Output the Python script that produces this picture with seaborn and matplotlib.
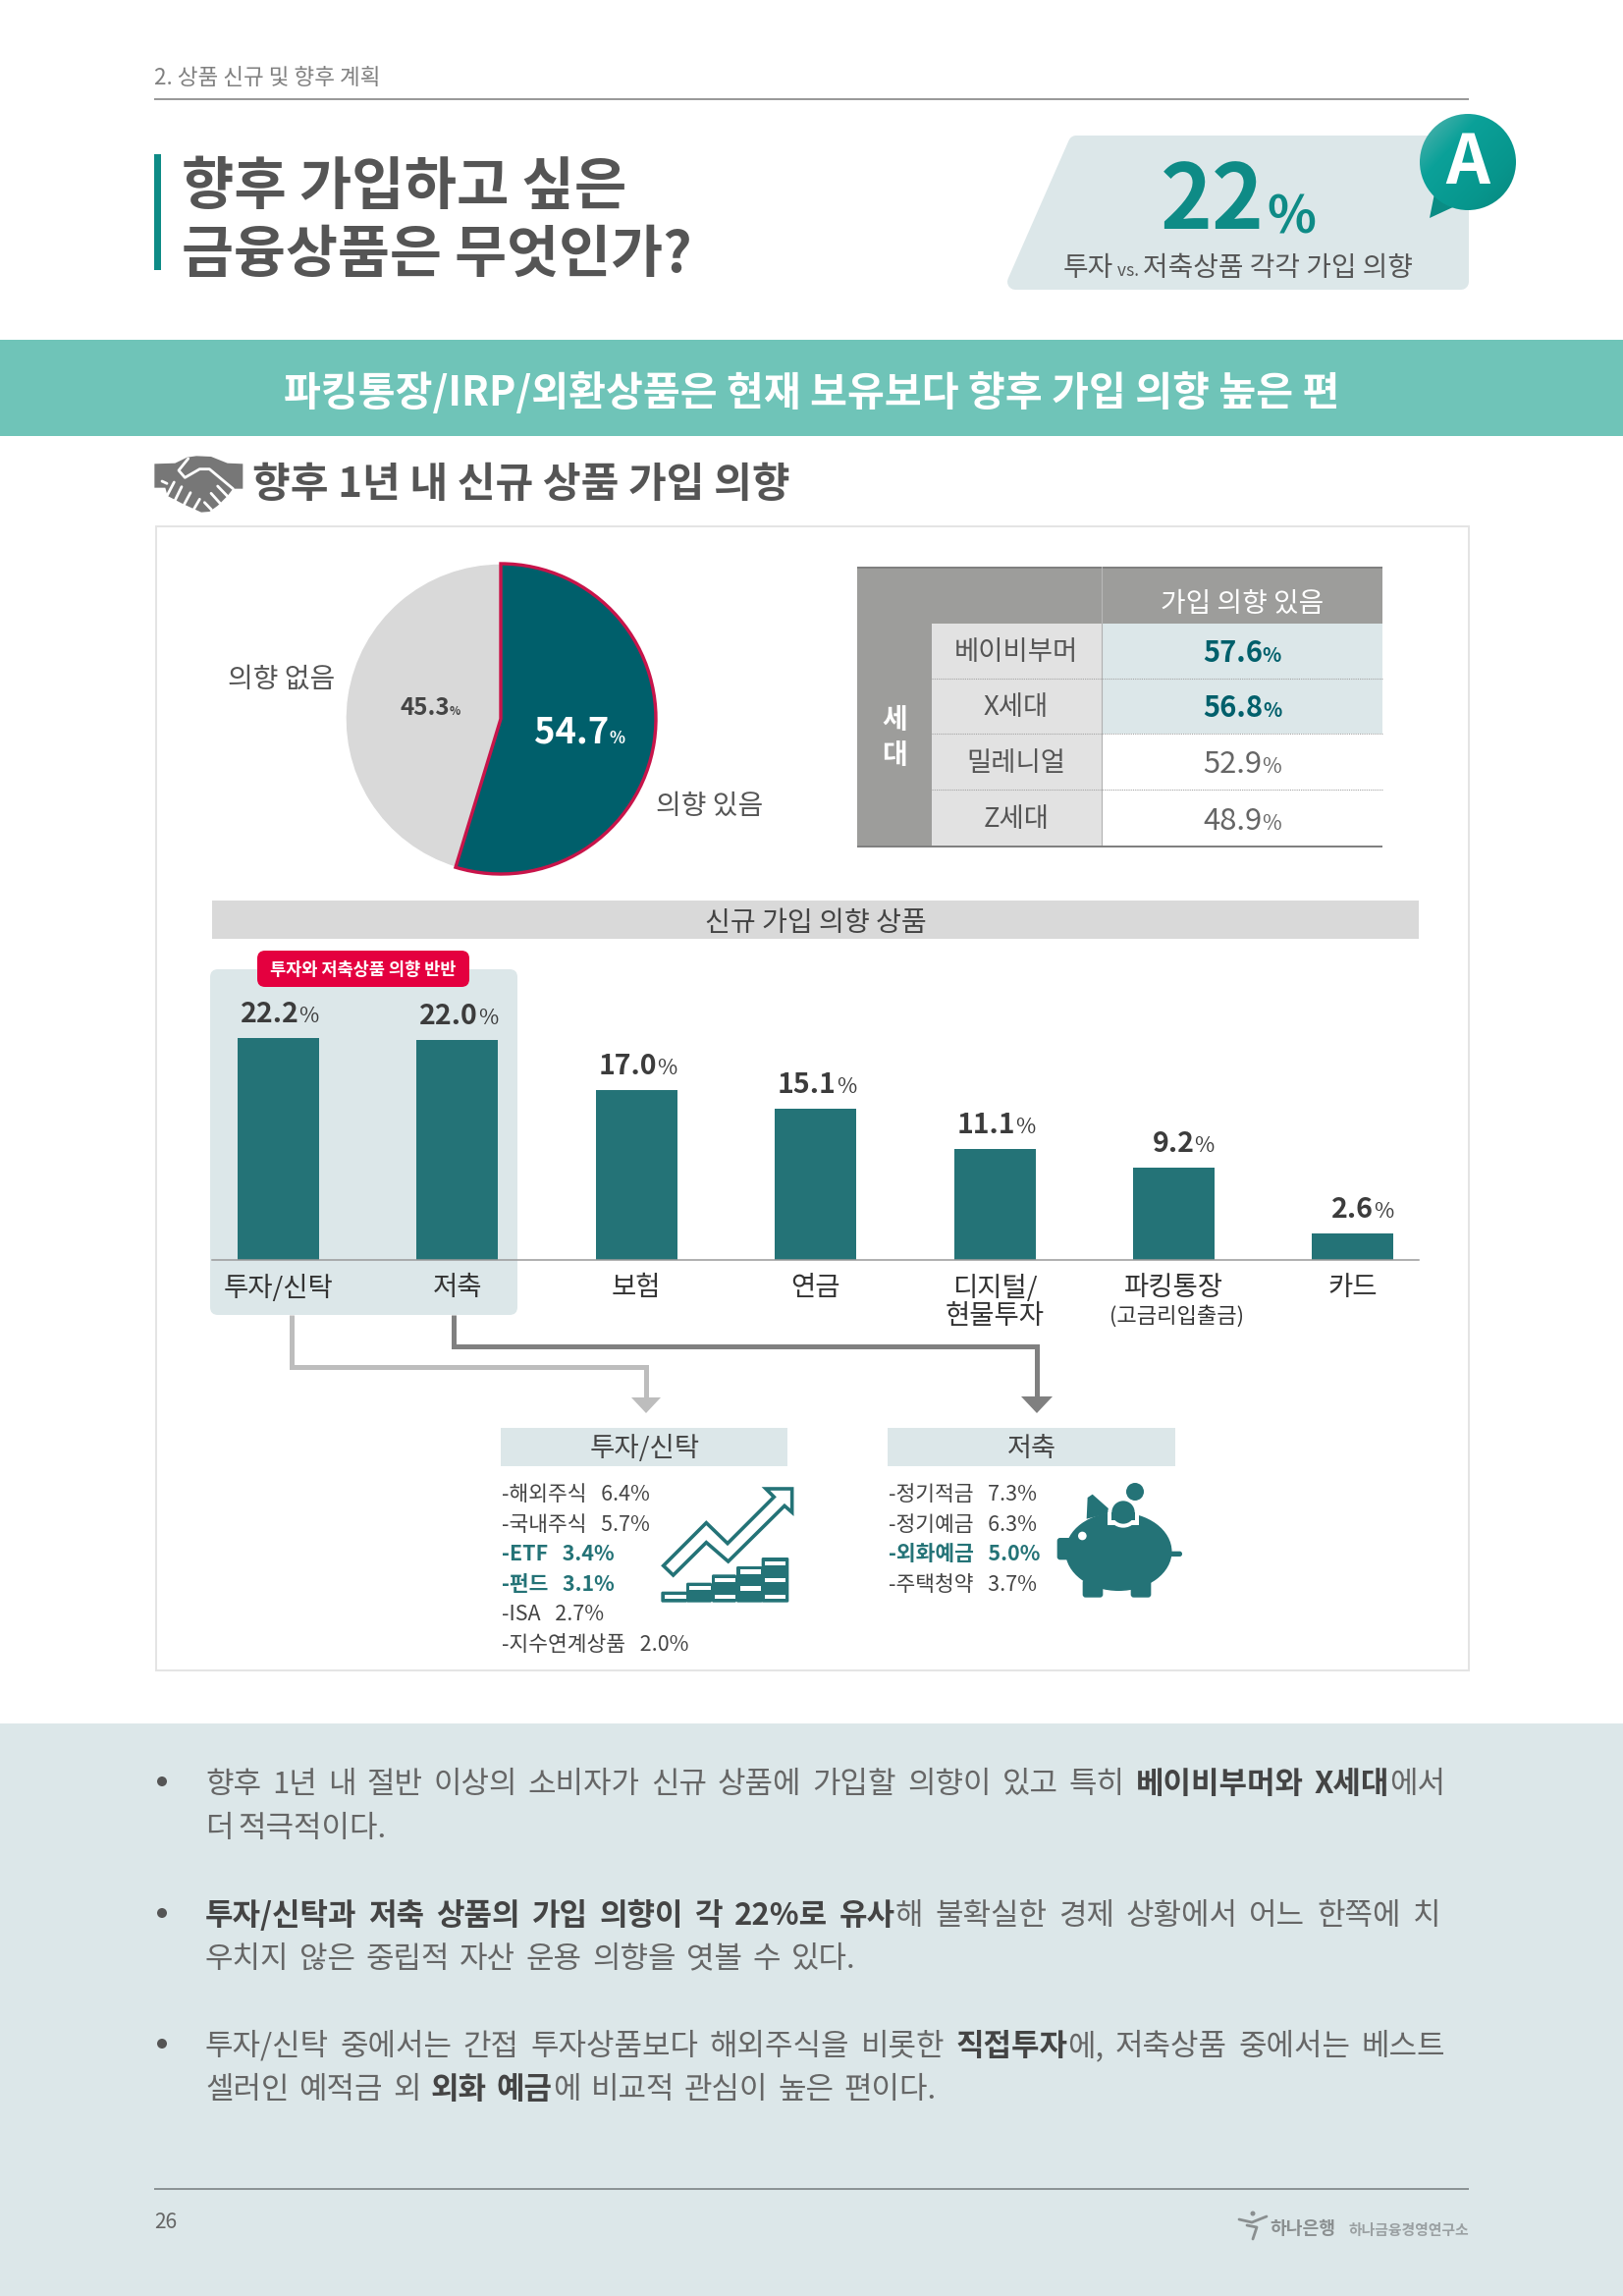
import numpy as np
import matplotlib
matplotlib.use("Agg")
import matplotlib.pyplot as plt
from matplotlib.patches import Rectangle, Circle, Polygon, FancyBboxPatch, Ellipse
from matplotlib.colors import LinearSegmentedColormap
from matplotlib.font_manager import FontProperties
import seaborn as sns

# ---------- survey figures ----------
pie_labels = ["의향 있음", "의향 없음"]
pie_values = [54.7, 45.3]

generations = ["베이비부머", "X세대", "밀레니얼", "Z세대"]
generation_values = [57.6, 56.8, 52.9, 48.9]

products = ["투자/신탁", "저축", "보험", "연금", "디지털/\n현물투자", "파킹통장", "카드"]
product_values = [22.2, 22.0, 17.0, 15.1, 11.1, 9.2, 2.6]

invest_items = ["해외주식", "국내주식", "ETF", "펀드", "ISA", "지수연계상품"]
invest_values = [6.4, 5.7, 3.4, 3.1, 2.7, 2.0]
invest_accent = ["ETF", "펀드"]

saving_items = ["정기적금", "정기예금", "외화예금", "주택청약"]
saving_values = [7.3, 6.3, 5.0, 3.7]
saving_accent = ["외화예금"]

notes = [
    [("향후 1년 내 절반 이상의 소비자가 신규 상품에 가입할 의향이 있고 특히 ", 0), ("베이비부머와 X세대", 1), ("에서", 0)],
    [("더 적극적이다.", 0)],
    [("투자/신탁과 저축 상품의 가입 의향이 각 22%로 유사", 1), ("해 불확실한 경제 상황에서 어느 한쪽에 치", 0)],
    [("우치지 않은 중립적 자산 운용 의향을 엿볼 수 있다.", 0)],
    [("투자/신탁 중에서는 간접 투자상품보다 해외주식을 비롯한 ", 0), ("직접투자", 1), ("에, 저축상품 중에서는 베스트", 0)],
    [("셀러인 예적금 외 ", 0), ("외화 예금", 1), ("에 비교적 관심이 높은 편이다.", 0)],
]

# ---------- palette ----------
TEAL = "#247377"
DEEP = "#005F6B"
MINT = "#6FC4B8"
PALE = "#DCE7E9"
GREY = "#9D9D9B"
RED = "#E4003F"
TEXT = "#555555"
BODY = "#666666"

sns.set_theme(style="white")
FONT = ["Noto Sans CJK KR", "DejaVu Sans"]
plt.rcParams["font.family"] = FONT

W, H = 1653, 2338
fig = plt.figure(figsize=(W / 100, H / 100), dpi=100, facecolor="white")
page = fig.add_axes([0, 0, 1, 1], zorder=1)
front = fig.add_axes([0, 0, 1, 1], zorder=3)
for layer in (page, front):
    layer.set_xlim(0, W)
    layer.set_ylim(H, 0)
    layer.axis("off")
renderer = fig.canvas.get_renderer()


def axes_at(left, top, right, bottom, **kw):
    """Create axes from page pixel edges."""
    return fig.add_axes([left / W, 1 - bottom / H, (right - left) / W, (bottom - top) / H], **kw)


def text_width(s, size, weight):
    fp = FontProperties(family=FONT, size=size * 0.72, weight=weight)
    w1 = renderer.get_text_width_height_descent(s + "|", fp, False)[0]
    w0 = renderer.get_text_width_height_descent("|", fp, False)[0]
    return w1 - w0


def runs(x, y, parts, ha="left", fit=None, ax=None):
    """Draw (text, size_px, weight, colour) pieces on one baseline, y being the glyph centre."""
    ax = ax or page
    if fit is not None:
        total = sum(text_width(p[0], p[1], p[2]) for p in parts)
        parts = [(p[0], p[1] * fit / total, p[2], p[3]) for p in parts]
    widths = [text_width(p[0], p[1], p[2]) for p in parts]
    total = sum(widths)
    cursor = x - (total / 2 if ha == "center" else total if ha == "right" else 0)
    base = y + 0.38 * max(p[1] for p in parts)
    for (s, size, weight, colour), w in zip(parts, widths):
        ax.text(cursor, base, s, fontsize=size * 0.72, fontweight=weight, color=colour,
                ha="left", va="baseline", family=FONT)
        cursor += w


def justified(x, y, parts, size, target):
    """Set a line of mixed-weight words, spreading the word gaps until it spans target pixels."""
    words = []
    for s, weight, colour in parts:
        pieces = s.split(" ")
        for j, piece in enumerate(pieces):
            if piece:
                words.append((piece, weight, colour, j < len(pieces) - 1))
    ink = sum(text_width(w[0], size, w[1]) for w in words)
    gaps = sum(1 for w in words[:-1] if w[3])
    gap = (target - ink) / gaps
    cursor = x
    for piece, weight, colour, spaced in words:
        page.text(cursor, y + 0.38 * size, piece, fontsize=size * 0.72, fontweight=weight, color=colour,
                  ha="left", va="baseline", family=FONT)
        cursor += text_width(piece, size, weight) + (gap if spaced else 0)


def label(x, y, s, size, weight="normal", colour=TEXT, ha="left", fit=None):
    runs(x, y, [(s, size, weight, colour)], ha=ha, fit=fit)


def rect(x0, y0, x1, y1, colour, **kw):
    page.add_patch(Rectangle((x0, y0), x1 - x0, y1 - y0, facecolor=colour, edgecolor="none", **kw))


def rounded(x0, y0, x1, y1, colour, r=8, **kw):
    page.add_patch(FancyBboxPatch((x0 + r, y0 + r), x1 - x0 - 2 * r, y1 - y0 - 2 * r,
                                  boxstyle=f"round,pad={r},rounding_size={r}",
                                  facecolor=colour, edgecolor="none", **kw))


def hline(x0, x1, y, colour, lw=1.5, **kw):
    page.plot([x0, x1], [y, y], color=colour, lw=lw * 0.72, solid_capstyle="butt", **kw)


# ---------- page header ----------
label(157, 77, "2. 상품 신규 및 향후 계획", 21, colour="#808080", fit=230)
hline(157, 1496, 101, "#999999", 2)
rect(157, 157, 164, 275, "#0E8B86")
label(185, 186, "향후 가입하고 싶은", 54, "bold", fit=453)
label(185, 255, "금융상품은 무엇인가?", 54, "bold", fit=519)

# callout with the headline figure
page.add_patch(Polygon([(1096, 146), (1488, 146), (1488, 287), (1034, 287)], closed=True,
                       facecolor=PALE, edgecolor=PALE, lw=16 * 0.72, joinstyle="round"))
runs(1235, 199, [("22", 100, "bold", "#0E8B86")], ha="center", fit=106)
runs(1290, 218, [("%", 50, "bold", "#0E8B86")], fit=50)
runs(1261, 270, [("투자", 27, "normal", TEXT), (" vs. ", 17, "normal", TEXT),
                 ("저축상품 각각 가입 의향", 27, "normal", TEXT)], ha="center", fit=356)

# answer bubble with a soft sheen from the upper left
sheen = LinearSegmentedColormap.from_list("sheen", ["#6DB9B5", "#0BA199", "#07968D", "#0A8279"])
grad = np.linspace(0, 1, 120)[None, :] + np.linspace(0, 1, 120)[:, None]
bubble = page.imshow(grad, cmap=sheen, extent=(1440, 1550, 230, 110), aspect="auto", zorder=3)
tail_points = [(1462, 192), (1456, 222), (1482, 210)]
bubble_clip = Circle((1495, 165), 49, transform=page.transData)
bubble.set_clip_path(bubble_clip)
page.add_patch(Polygon(tail_points, closed=True, facecolor="#0A8C84", edgecolor="none", zorder=2.5))
page.set_xlim(0, W)
page.set_ylim(H, 0)
page.text(1495, 187, "A", fontsize=70 * 0.72, fontweight="bold", color="white", ha="center",
          va="baseline", zorder=4)

# ---------- headline band ----------
rect(0, 346, W, 444, MINT)
label(827, 397, "파킹통장/IRP/외환상품은 현재 보유보다 향후 가입 의향 높은 편", 38, "bold", "white",
      ha="center", fit=1076)


# handshake glyph next to the section title
def hs(points):
    return [(150 + a / 3, 455 + b / 3) for a, b in points]


page.add_patch(Polygon(hs([(22, 52), (85, 50), (122, 32), (150, 28), (195, 30), (245, 50), (292, 52),
                           (292, 128), (262, 128), (245, 150), (215, 180), (190, 198), (165, 200),
                           (110, 175), (62, 150), (55, 125), (22, 125)]),
                       closed=True, facecolor="#777777", edgecolor="none"))
for path in ([(125, 36), (96, 72), (115, 94), (160, 68), (190, 68), (262, 128)],
             [(45, 105), (60, 112)],
             [(82, 108), (60, 150)], [(105, 122), (84, 165)], [(132, 140), (108, 185)], [(160, 160), (138, 198)],
             [(175, 170), (196, 192)], [(195, 142), (222, 172)], [(215, 120), (246, 152)]):
    xs, ys = zip(*hs(path))
    page.plot(xs, ys, color="white", lw=2.0, solid_capstyle="round", solid_joinstyle="round")
label(257, 490, "향후 1년 내 신규 상품 가입 의향", 38, "bold", fit=548)

# ---------- survey panel ----------
page.add_patch(Rectangle((159, 536), 1337, 1165, facecolor="white", edgecolor="#E4E4E4", lw=2 * 0.72))

# overall intention pie
pie_ax = axes_at(510 - 160, 732 - 160, 510 + 160, 732 + 160, zorder=2)
wedges, _ = pie_ax.pie(pie_values, colors=[DEEP, "#D9D9D9"], startangle=90, counterclock=False,
                       radius=1, frame=False)
wedges[0].set_edgecolor("#C8144A")
wedges[0].set_linewidth(3.4 * 0.72)
wedges[0].set_zorder(3)
pie_ax.set_xlim(-160 / 158, 160 / 158)
pie_ax.set_ylim(-160 / 158, 160 / 158)

label(723, 818, pie_labels[0], 26, colour=TEXT, ha="center", fit=109)
label(287, 689, pie_labels[1], 26, colour=TEXT, ha="center", fit=109)
runs(590, 743, [(f"{pie_values[0]}", 37, "bold", "white"), ("%", 17, "bold", "white")], ha="center", fit=92, ax=front)
runs(438, 719, [(f"{pie_values[1]}", 25, "bold", "#444444"), ("%", 12, "bold", "#444444")], ha="center", fit=62, ax=front)

# intention by generation table
row_edges = [635, 691, 747, 804, 862]
rect(873, 577, 1408, 635, GREY)
hline(873, 1408, 578, "#808080", 2)
page.plot([1122, 1122], [577, 635], color="#B8B8B8", lw=0.8)
label(1265, 612, "가입 의향 있음", 26, "normal", "white", ha="center", fit=166)
rect(873, 635, 949, 862, GREY)
label(911, 730, "세", 28, "bold", "white", ha="center")
label(911, 766, "대", 28, "bold", "white", ha="center")
rect(949, 635, 1122, 862, "#E2E2E2")
for i, (name, value) in enumerate(zip(generations, generation_values)):
    top, bottom = row_edges[i], row_edges[i + 1]
    middle = (top + bottom) / 2 - 1
    leading = i < 2
    if leading:
        rect(1122, top, 1408, bottom, PALE)
    label(1035, middle, name, 27.5, colour=TEXT, ha="center")
    colour = DEEP if leading else BODY
    weight = "bold" if leading else "normal"
    runs(1265, middle + 1, [(f"{value}", 29, weight, colour), ("%", 20, weight, colour)], ha="center", fit=80)
    if i < 3:
        page.plot([949, 1408], [bottom, bottom], color="#A5A5A5", lw=0.8, ls=(0, (1, 1)))
page.plot([1122, 1122], [635, 862], color="#B0B0B0", lw=0.8)
hline(873, 1408, 862, "#808080", 2)

# product intention header and highlight
rect(216, 917, 1445, 956, "#D9D9D9")
label(831, 937, "신규 가입 의향 상품", 26, "normal", "#444444", ha="center", fit=226)
rounded(214, 987, 527, 1339, PALE, r=8)
rounded(262, 968, 478, 1005, RED, r=8, zorder=2)
label(370, 986, "투자와 저축상품 의향 반반", 19, "bold", "white", ha="center", fit=190)
page.texts[-1].set_zorder(3)

# product intention bars
PX_PER_UNIT = 10.2
bar_ax = axes_at(216, 960, 1445, 1283, zorder=2)
bar_ax.patch.set_alpha(0)
sns.barplot(x=products, y=product_values, color=TEAL, saturation=1, width=0.455, linewidth=0,
            edgecolor="none", ax=bar_ax)
bar_ax.set_xlim((216 - 283.5) / 182.4, (1445 - 283.5) / 182.4)
bar_ax.set_ylim(0, 323 / PX_PER_UNIT)
sns.despine(ax=bar_ax, left=True)
bar_ax.spines["bottom"].set_color("#9A9A9A")
bar_ax.spines["bottom"].set_linewidth(1.1)
bar_ax.set_yticks([])
bar_ax.set_ylabel("")
bar_ax.tick_params(axis="x", length=0, pad=10.5, labelsize=27.5 * 0.72, labelcolor="#333333")
for tick in bar_ax.get_xticklabels():
    tick.set_linespacing(1.08)
for i, value in enumerate(product_values):
    bar_ax.annotate(f"{value}", (i, value), xytext=(21 * 0.72, 16 * 0.72), textcoords="offset points",
                    ha="right", va="baseline", fontsize=28.5 * 0.72, color="#3C3C3C", fontweight="bold",
                    annotation_clip=False)
    bar_ax.annotate("%", (i, value), xytext=(21 * 0.72, 16 * 0.72), textcoords="offset points",
                    ha="left", va="baseline", fontsize=22 * 0.72, color="#3C3C3C", fontweight="normal",
                    annotation_clip=False)
label(1199, 1338, "(고금리입출금)", 20, colour="#333333", ha="center", fit=137)

# connectors towards the breakdown lists
page.plot([297, 297, 658, 658], [1339, 1392, 1392, 1425], color="#BDBDBD", lw=5 * 0.72,
          solid_joinstyle="miter", solid_capstyle="butt")
page.add_patch(Polygon([(643, 1423), (673, 1423), (658, 1439)], closed=True, facecolor="#BDBDBD", edgecolor="none"))
page.plot([462, 462, 1056, 1056], [1339, 1371, 1371, 1425], color="#808080", lw=5 * 0.72,
          solid_joinstyle="miter", solid_capstyle="butt")
page.add_patch(Polygon([(1040, 1422), (1072, 1422), (1056, 1439)], closed=True, facecolor="#808080", edgecolor="none"))

# breakdown lists
rect(510, 1454, 802, 1493, PALE)
rect(904, 1454, 1197, 1493, PALE)
label(657, 1473, "투자/신탁", 26, colour="#444444", ha="center", fit=112)
label(1051, 1473, "저축", 26, colour="#444444", ha="center", fit=50)
list_rows = [1520, 1551, 1581, 1612, 1642, 1673]
for row, name, value in zip(list_rows, invest_items, invest_values):
    colour = TEAL if name in invest_accent else "#444444"
    weight = "bold" if name in invest_accent else "normal"
    label(511, row, f"-{name}   {value}%", 21.5, weight, colour)
for row, name, value in zip(list_rows, saving_items, saving_values):
    colour = TEAL if name in saving_accent else "#444444"
    weight = "bold" if name in saving_accent else "normal"
    label(905, row, f"-{name}   {value}%", 21.5, weight, colour)


# rising chart glyph
def tr(points):
    return [(665 + a / 3, 1505 + b / 3) for a, b in points]


page.add_patch(Polygon(tr([(32, 268), (163, 137), (228, 200), (370, 58), (345, 33), (425, 33), (425, 105),
                           (402, 85), (230, 255), (163, 197), (62, 297)]),
                       closed=True, facecolor="white", edgecolor=TEAL, lw=3.6 * 0.72, joinstyle="miter"))
for x0, x1, top in [(25, 105, 347), (102, 180, 320), (180, 255, 295), (255, 335, 270), (332, 415, 243)]:
    (a, b), (c, d) = tr([(x0, top), (x1, 380)])
    rounded(a, b, c, d, TEAL, r=1.5)
for x0, x1, y0, y1 in [(37, 102, 357, 368), (112, 178, 330, 343), (190, 253, 305, 318), (190, 253, 357, 368),
                       (267, 330, 280, 293), (267, 330, 331, 344), (342, 405, 255, 268),
                       (342, 405, 305, 318), (342, 405, 357, 368)]:
    (a, b), (c, d) = tr([(x0, y0), (x1, y1)])
    rect(a, b, c, d, "white")


# piggy bank glyph
def pg(a, b):
    return 1070 + a / 3, 1505 + b / 3


page.add_patch(Ellipse(pg(208, 225), 325 / 3, 240 / 3, facecolor=TEAL, edgecolor="none"))
page.add_patch(Polygon([pg(110, 125), pg(113, 60), pg(128, 50), pg(190, 105)], closed=True, facecolor=TEAL, edgecolor="none"))
rounded(*pg(20, 183), *pg(70, 250), TEAL, r=3)
rounded(*pg(98, 310), *pg(160, 365), TEAL, r=3)
rounded(*pg(245, 310), *pg(307, 365), TEAL, r=3)
rounded(*pg(360, 224), *pg(402, 240), TEAL, r=2.5)
page.add_patch(Circle(pg(97, 177), 13 / 3, facecolor="white", edgecolor="none"))
page.add_patch(Circle(pg(222, 105), 47 / 3, facecolor="white", edgecolor="none"))
rect(*pg(175, 105), pg(270, 0)[0], pg(0, 143)[1], "white")
page.add_patch(Circle(pg(222, 105), 35 / 3, facecolor=TEAL, edgecolor="none"))
rect(*pg(187, 105), pg(258, 0)[0], pg(0, 130)[1], TEAL)
page.add_patch(Circle(pg(258, 42), 27 / 3, facecolor=TEAL, edgecolor="none"))

# ---------- commentary ----------
rect(0, 1755, W, H, PALE)
note_rows = [1814, 1859, 1948, 1992, 2081, 2125]
note_spans = [1263, 185, 1258, 662, 1263, 745]
for row, parts, span in zip(note_rows, notes, note_spans):
    styled = [(s, "bold" if b else "normal", "#444444" if b else BODY) for s, b in parts]
    justified(209, row, styled, 31, span)
for row in note_rows[0::2]:
    page.add_patch(Circle((165, row), 5, facecolor="#555555", edgecolor="none"))

# ---------- footer ----------
hline(157, 1496, 2229, "#8C9496", 2)
label(157, 2261, "26", 21, colour="#666666")
page.plot([1262, 1275, 1290], [2260, 2263, 2257], color="#8A8F90", lw=2)
page.add_patch(Circle((1276, 2254), 2.5, facecolor="#8A8F90", edgecolor="none"))
page.plot([1270, 1280, 1276], [2266, 2268, 2280], color="#8A8F90", lw=2)
label(1293, 2268, "하나은행", 22, "bold", "#8A8F90", fit=67)
label(1373, 2270, "하나금융경영연구소", 14, "bold", "#9AA0A2", fit=123)

fig.savefig("out.png", dpi=100, facecolor="white")
